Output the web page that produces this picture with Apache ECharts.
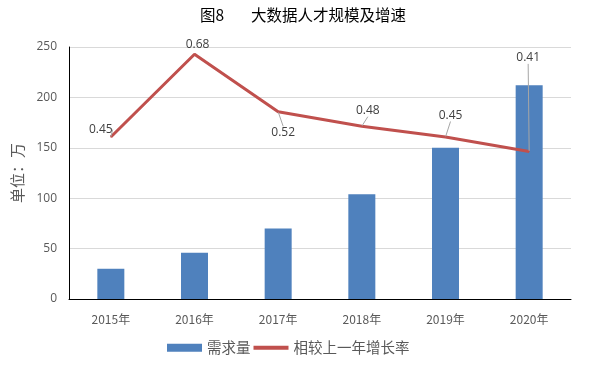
<!DOCTYPE html>
<html><head><meta charset="utf-8">
<script src="https://cdn.jsdelivr.net/npm/echarts@6/dist/echarts.min.js"></script>
<style>html,body{margin:0;padding:0;background:#fff}#c{width:606px;height:366px}</style>
</head><body><div id="c"></div>
<script>
var categories = ['2015年','2016年','2017年','2018年','2019年','2020年'];
var demand = [30, 46, 70, 104, 150, 212];
var growth = [0.45, 0.68, 0.52, 0.48, 0.45, 0.41];
var yTicks = [0, 50, 100, 150, 200, 250];
var labelShift = [[-10,4],[3,1.5],[5,32],[6,-4],[5,-10],[-1,-82]];

var chart = echarts.init(document.getElementById('c'), null, {renderer:'canvas'});
chart.setOption({
  animation:false,
  backgroundColor:'#fff',
  title:{text:'图8\u3000\u2002 大数据人才规模及增速', left:'center', top:2,
    textStyle:{fontFamily:'Noto Sans CJK SC', fontSize:15.5, fontWeight:'normal', color:'#000'}},
  grid:{left:69, right:35, top:47, bottom:67},
  legend:{bottom:6, left:162, itemGap:3, itemWidth:35, itemHeight:8,
    textStyle:{fontFamily:'Noto Sans CJK SC', fontSize:14.5, color:'#595959'},
    data:[{name:'需求量', icon:'rect'},
          {name:'相较上一年增长率', icon:'path://M0,0 L36,0 L36,4 L0,4 Z', itemStyle:{color:'#C0504D'}}]},
  xAxis:{type:'category', data:categories,
    axisLine:{lineStyle:{color:'#000', width:1}}, axisTick:{show:false},
    axisLabel:{margin:14, fontFamily:'Noto Sans CJK SC', fontSize:12, color:'#595959'}},
  yAxis:[{type:'value', min:yTicks[0], max:yTicks[yTicks.length-1], interval:50,
    name:'单位：万', nameLocation:'middle', nameGap:44, nameRotate:90,
    nameTextStyle:{fontFamily:'Noto Sans CJK SC', fontSize:15, color:'#595959'},
    axisLine:{show:true, lineStyle:{color:'#000'}}, axisTick:{show:false},
    axisLabel:{margin:12, fontFamily:'Open Sans', fontSize:12, color:'#595959'},
    splitLine:{lineStyle:{color:'#D9D9D9'}}},
   {type:'value', min:0, max:0.7, show:false, splitLine:{show:false}}],
  series:[
    {name:'需求量', type:'bar', data:demand, barWidth:27, itemStyle:{color:'#4F81BD'}},
    {name:'相较上一年增长率', type:'line', yAxisIndex:1,
      data:growth.map(function(v,i){ return i===1 ? {value:v, labelLine:{show:false}} : v; }),
      symbol:'circle', symbolSize:1, showSymbol:true,
      lineStyle:{color:'#C0504D', width:3}, itemStyle:{color:'#C0504D'},
      label:{show:true, position:'top', distance:5, fontFamily:'Open Sans', fontSize:12, color:'#404040'},
      labelLine:{show:true, lineStyle:{color:'#A6A6A6', width:1}},
      labelLayout:function(p){ var s = labelShift[p.dataIndex]; return {dx:s[0], dy:s[1]}; }
    }
  ]
});
</script></body></html>
